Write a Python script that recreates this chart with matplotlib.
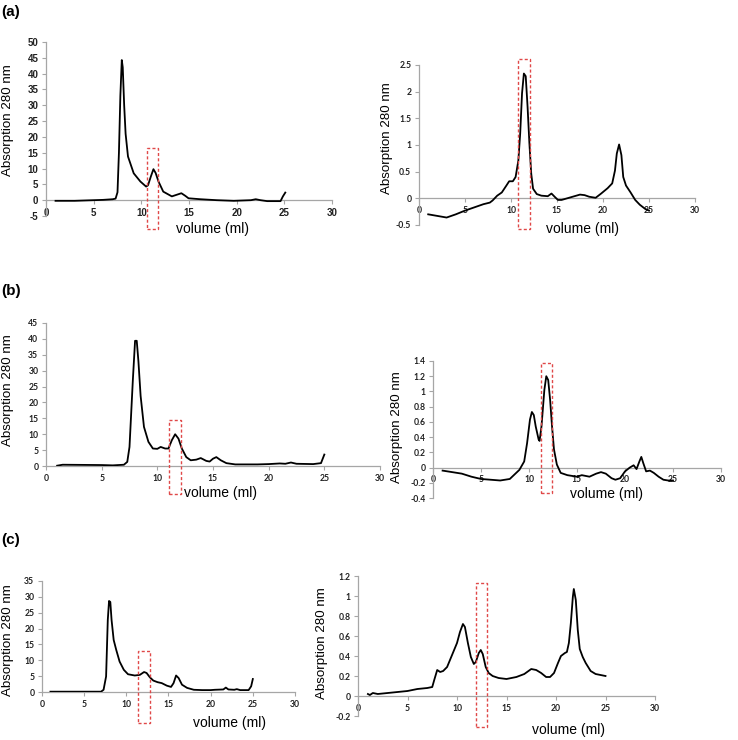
import matplotlib
matplotlib.use("Agg")
import matplotlib.pyplot as plt
from matplotlib.patches import Rectangle

# ---------------- data ----------------
a_left_x = [1, 3, 6, 7.0, 7.3, 7.5, 7.65, 7.8, 7.95, 8.05, 8.2, 8.35, 8.6, 9.2, 9.9, 10.5, 10.7, 11.0, 11.27,
            11.5, 11.8, 12.3, 13.2, 13.7, 14.2, 14.6, 14.95, 16.2, 17.9, 19.7, 21.5, 22.0, 22.5, 23.2, 24.6, 24.85, 25.1]
a_left_y = [-0.2, -0.2, 0.1, 0.3, 0.5, 2.5, 15, 33, 44.3, 42, 30, 21, 13.8, 8.5, 5.9, 4.3, 4.7, 7.5, 9.8,
            8.6, 5.9, 2.7, 1.2, 1.7, 2.2, 1.4, 0.6, 0.3, 0.0, -0.2, 0.0, 0.3, 0.0, -0.3, -0.3, 1.2, 2.4]

a_right_x = [1, 2, 3, 4, 5, 6, 7, 7.7, 8, 8.5, 9, 9.5, 9.8, 10.2, 10.5, 10.8, 11.0, 11.2, 11.4, 11.6, 11.8,
             12.0, 12.2, 12.4, 12.8, 13.3, 14.0, 14.4, 14.8, 15.1, 15.5, 16.5, 17.5, 18, 18.5, 19.2, 19.8,
             20.5, 21.0, 21.3, 21.5, 21.75, 22.0, 22.2, 22.5, 23, 23.5, 24, 24.6, 25]
a_right_y = [-0.30, -0.33, -0.36, -0.30, -0.23, -0.17, -0.11, -0.08, -0.04, 0.05, 0.11, 0.24, 0.32, 0.32,
             0.40, 0.71, 1.22, 1.97, 2.34, 2.29, 1.72, 1.03, 0.46, 0.18, 0.08, 0.05, 0.04, 0.09, 0.02, -0.03,
             -0.03, 0.02, 0.07, 0.06, 0.03, 0.01, 0.09, 0.19, 0.28, 0.52, 0.84, 1.01, 0.81, 0.40, 0.24, 0.11,
             -0.03, -0.12, -0.20, -0.23]

b_left_x = [1, 1.5, 5, 6, 7, 7.3, 7.5, 7.8, 8.0, 8.15, 8.3, 8.5, 8.8, 9.2, 9.6, 10.0, 10.3, 10.7, 11.0, 11.3,
            11.6, 11.9, 12.2, 12.6, 13.0, 13.5, 13.9, 14.4, 14.7, 15.0, 15.3, 15.7, 16.2, 17, 18, 19, 20, 21,
            21.5, 22, 22.5, 24, 24.7, 25.0]
b_left_y = [0.1, 0.4, 0.3, 0.2, 0.4, 1.3, 6, 27, 39.4, 39.4, 33, 22, 12.3, 7.6, 5.5, 5.4, 6.0, 5.5, 5.5, 8.1,
            10.0, 8.6, 5.5, 2.8, 1.8, 2.0, 2.5, 1.6, 1.4, 2.3, 2.8, 1.8, 0.9, 0.5, 0.5, 0.5, 0.6, 0.8,
            0.7, 1.1, 0.7, 0.6, 0.9, 3.6]

b_right_x = [1, 2, 3, 4, 5, 6, 7, 8, 8.5, 9, 9.5, 9.8, 10.1, 10.3, 10.5, 10.7, 11.0, 11.1, 11.3, 11.6, 11.8,
             12.0, 12.2, 12.4, 12.6, 12.9, 13.3, 14, 15, 15.5, 16.3, 17.0, 17.5, 18.0, 18.6, 19.0, 19.5, 20,
             20.5, 20.9, 21.2, 21.5, 21.7, 21.9, 22.2, 22.6, 23, 23.5, 24, 24.5, 25]
b_right_y = [-0.04, -0.06, -0.08, -0.12, -0.15, -0.16, -0.17, -0.15, -0.09, -0.03, 0.08, 0.32, 0.63, 0.73,
             0.69, 0.54, 0.37, 0.35, 0.54, 1.02, 1.20, 1.15, 0.89, 0.54, 0.24, 0.04, -0.07, -0.10, -0.12,
             -0.10, -0.12, -0.08, -0.06, -0.08, -0.14, -0.16, -0.14, -0.05, 0.00, 0.03, -0.02, 0.08, 0.14,
             0.06, -0.05, -0.04, -0.07, -0.12, -0.16, -0.17, -0.17]

c_left_x = [1, 5, 7, 7.3, 7.6, 7.8, 7.95, 8.1, 8.25, 8.5, 8.8, 9.2, 9.7, 10.2, 11, 11.6, 12.1, 12.4, 12.8,
            13.2, 13.7, 14.2, 14.8, 15.3, 15.6, 15.9, 16.2, 16.6, 17.2, 18, 19, 20, 20.5, 21.5, 21.8, 22.1,
            22.8, 23.1, 23.5, 24.5, 24.8, 25]
c_left_y = [0.1, 0.1, 0.1, 0.7, 4.9, 22.7, 28.7, 28.4, 22.7, 16.4, 13.3, 9.6, 7.0, 5.6, 5.2, 5.4, 6.3, 6.0,
            4.6, 3.6, 3.1, 2.8, 2.0, 1.6, 2.8, 5.2, 4.4, 2.3, 1.3, 0.7, 0.6, 0.6, 0.7, 0.8, 1.4, 0.8,
            0.7, 0.9, 0.6, 0.6, 1.8, 4.1]

c_right_x = [1, 1.2, 1.5, 2, 3, 4, 5, 6, 7, 7.5, 7.7, 8.0, 8.3, 8.6, 9.0, 9.5, 10.0, 10.3, 10.6, 10.8, 11.1,
             11.4, 11.7, 11.9, 12.2, 12.4, 12.6, 12.9, 13.2, 13.6, 14.2, 15, 16, 16.8, 17.5, 18.0, 18.5,
             19.0, 19.4, 19.8, 20.2, 20.5, 20.9, 21.1, 21.3, 21.5, 21.7, 21.8, 22.0, 22.2, 22.4, 22.7,
             23.0, 23.5, 24, 24.5, 25]
c_right_y = [0.02, 0.01, 0.03, 0.02, 0.03, 0.04, 0.05, 0.07, 0.08, 0.09, 0.16, 0.26, 0.24, 0.25, 0.29, 0.41,
             0.53, 0.64, 0.72, 0.69, 0.53, 0.39, 0.32, 0.34, 0.43, 0.46, 0.42, 0.29, 0.23, 0.20, 0.18,
             0.17, 0.19, 0.22, 0.27, 0.26, 0.23, 0.19, 0.19, 0.23, 0.33, 0.40, 0.43, 0.44, 0.53, 0.73,
             0.99, 1.07, 0.96, 0.66, 0.47, 0.39, 0.33, 0.25, 0.22, 0.21, 0.20]

x_ticks = [0, 5, 10, 15, 20, 25, 30]
a_left_yticks = [-5, 0, 5, 10, 15, 20, 25, 30, 35, 40, 45, 50]
a_right_yticks = [-0.5, 0, 0.5, 1, 1.5, 2, 2.5]
b_left_yticks = [0, 5, 10, 15, 20, 25, 30, 35, 40, 45]
b_right_yticks = [-0.4, -0.2, 0, 0.2, 0.4, 0.6, 0.8, 1, 1.2, 1.4]
c_left_yticks = [0, 5, 10, 15, 20, 25, 30, 35]
c_right_yticks = [-0.2, 0, 0.2, 0.4, 0.6, 0.8, 1, 1.2]

# highlighted fractions (x0, x1, y0, y1) in data units
a_left_box = (10.6, 11.75, -9.2, 16.5)
a_right_box = (10.76, 12.07, -0.58, 2.61)
b_left_box = (11.06, 12.14, -8.8, 14.5)
b_right_box = (11.27, 12.42, -0.34, 1.37)
c_left_box = (11.4, 12.8, -9.8, 12.9)
c_right_box = (11.9, 13.0, -0.31, 1.13)

ylabel_text = "Absorption 280 nm"
xlabel_text = "volume (ml)"

# ---------------- figure ----------------
W, H = 738, 740
fig = plt.figure(figsize=(W / 100, H / 100), dpi=100)
fig.patch.set_facecolor("white")

AXIS_COLOR = "#a6a6a6"
TICK_COLOR = "#222222"
LABEL_FONT = "Liberation Sans"


def fmt(v):
    if float(v).is_integer():
        return str(int(v))
    return ("%g" % v)


def make_panel(px_left, px_right, px_top, px_bottom, ylim, yticks, xs, ys, box,
               ylab_xy, xlab_xy, tick_fs=6.2, tick_family="Lato"):
    ax = fig.add_axes([px_left / W, 1 - px_bottom / H,
                       (px_right - px_left) / W, (px_bottom - px_top) / H])
    ax.set_xlim(0, 30)
    ax.set_ylim(*ylim)
    for s in ["top", "right"]:
        ax.spines[s].set_visible(False)
    ax.spines["left"].set_color(AXIS_COLOR)
    ax.spines["bottom"].set_color(AXIS_COLOR)
    ax.spines["left"].set_linewidth(0.9)
    ax.spines["bottom"].set_linewidth(0.9)
    ax.spines["bottom"].set_position(("data", 0))
    ax.set_xticks(x_ticks)
    ax.set_xticklabels([fmt(v) for v in x_ticks])
    ax.set_yticks(yticks)
    ax.set_yticklabels([fmt(v) for v in yticks])
    ax.tick_params(axis="both", direction="out", length=3, width=0.8,
                   color=AXIS_COLOR, labelcolor=TICK_COLOR, labelsize=tick_fs, pad=2.5)
    for lab in ax.get_xticklabels() + ax.get_yticklabels():
        lab.set_family(tick_family)
        lab.set_fontweight("bold")
    ax.set_facecolor("none")
    ax.plot(xs, ys, color="black", lw=1.3, solid_joinstyle="round", zorder=3)
    x0, x1, y0, y1 = box
    ax.add_patch(Rectangle((x0, y0), x1 - x0, y1 - y0, fill=False,
                           edgecolor="#e04848", linestyle=(0, (2.2, 1.6)),
                           linewidth=1.0, clip_on=False, zorder=4))
    fig.text(ylab_xy[0] / W, 1 - ylab_xy[1] / H, ylabel_text, rotation=90,
             ha="center", va="center", fontsize=9.6, family=LABEL_FONT)
    fig.text(xlab_xy[0] / W, 1 - xlab_xy[1] / H, xlabel_text,
             ha="center", va="center", fontsize=10, family=LABEL_FONT)
    return ax


make_panel(46, 332, 42, 216, (-5, 50), a_left_yticks, a_left_x, a_left_y, a_left_box,
           (8, 120), (212, 229), tick_fs=7, tick_family="Liberation Sans")
make_panel(419, 695, 65, 225, (-0.5, 2.5), a_right_yticks, a_right_x, a_right_y, a_right_box,
           (387, 138), (582, 229))
make_panel(46, 380, 323, 466, (0, 45), b_left_yticks, b_left_x, b_left_y, b_left_box,
           (8, 390), (220, 493))
make_panel(433, 721, 361, 498, (-0.4, 1.4), b_right_yticks, b_right_x, b_right_y, b_right_box,
           (397, 427), (607, 494))
make_panel(42, 295, 581, 692, (0, 35), c_left_yticks, c_left_x, c_left_y, c_left_box,
           (8, 640), (229, 723))
make_panel(358, 655, 576, 716, (-0.2, 1.2), c_right_yticks, c_right_x, c_right_y, c_right_box,
           (322, 643), (569, 730))

for lab, yy in [("(a)", 12), ("(b)", 291), ("(c)", 540)]:
    fig.text(1 / W, 1 - yy / H, lab, ha="left", va="center", fontsize=11,
             fontweight="bold", family=LABEL_FONT)

fig.savefig("out.png", dpi=100, facecolor="white")
